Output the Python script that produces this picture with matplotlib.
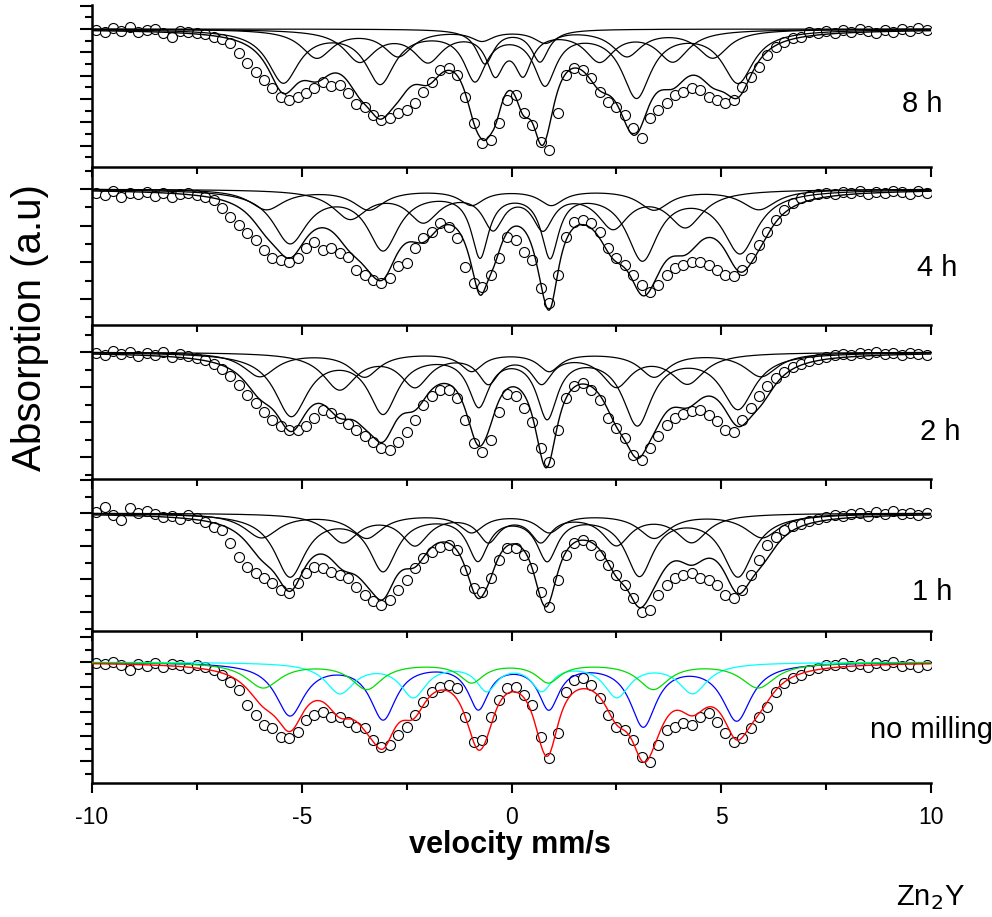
import numpy as np
import matplotlib
matplotlib.use("Agg")
import matplotlib.pyplot as plt
from matplotlib.ticker import MultipleLocator

plt.rcParams['font.family'] = ['Liberation Sans', 'DejaVu Sans']
plt.rcParams['axes.unicode_minus'] = False

# channel velocities (mm/s)
velocity = np.round(np.arange(-9.9, 10.0, 0.2), 1)

# measured spectra, absorption in a.u. relative to the baseline (0)
absorb_8h = [-0.01, -0.03, 0.01, -0.02, 0.02, -0.03, -0.01, 0.00, -0.04, -0.08,
             -0.02, -0.03, -0.04, -0.05, -0.08, -0.10, -0.14, -0.24, -0.34, -0.43,
             -0.51, -0.59, -0.68, -0.71, -0.68, -0.64, -0.59, -0.53, -0.57, -0.56,
             -0.64, -0.75, -0.78, -0.86, -0.91, -0.89, -0.84, -0.81, -0.74, -0.63,
             -0.53, -0.41, -0.39, -0.46, -0.68, -0.94, -1.14, -1.11, -0.94, -0.71,
             -0.66, -0.84, -0.96, -1.13, -1.21, -0.84, -0.46, -0.39, -0.41, -0.49,
             -0.63, -0.73, -0.78, -0.86, -0.99, -1.09, -0.89, -0.81, -0.74, -0.66,
             -0.63, -0.59, -0.61, -0.68, -0.71, -0.74, -0.71, -0.58, -0.48, -0.38,
             -0.26, -0.18, -0.13, -0.09, -0.08, -0.03, -0.04, -0.02, -0.04, -0.01,
             -0.03, 0.00, -0.02, -0.04, -0.01, -0.03, 0.00, -0.02, 0.01, -0.01]
absorb_4h = [-0.04, -0.06, -0.02, -0.08, -0.04, -0.05, -0.03, -0.07, -0.04, -0.08,
             -0.05, -0.04, -0.06, -0.08, -0.11, -0.19, -0.28, -0.36, -0.44, -0.51,
             -0.61, -0.69, -0.71, -0.73, -0.69, -0.59, -0.53, -0.61, -0.59, -0.64,
             -0.68, -0.81, -0.86, -0.91, -0.94, -0.89, -0.77, -0.74, -0.59, -0.49,
             -0.43, -0.34, -0.38, -0.49, -0.78, -0.94, -0.98, -0.86, -0.69, -0.48,
             -0.51, -0.63, -0.71, -0.99, -1.14, -0.86, -0.48, -0.33, -0.31, -0.34,
             -0.43, -0.59, -0.69, -0.76, -0.86, -0.96, -1.03, -0.96, -0.86, -0.79,
             -0.76, -0.73, -0.73, -0.76, -0.81, -0.86, -0.87, -0.81, -0.69, -0.56,
             -0.43, -0.31, -0.21, -0.14, -0.09, -0.07, -0.05, -0.04, -0.05, -0.03,
             -0.04, -0.02, -0.05, -0.03, -0.04, -0.02, -0.03, -0.05, -0.02, -0.04]
absorb_2h = [-0.01, -0.03, 0.01, -0.02, 0.00, -0.04, -0.01, -0.03, 0.00, -0.05,
             -0.02, -0.04, -0.06, -0.08, -0.12, -0.17, -0.24, -0.33, -0.43, -0.51,
             -0.60, -0.68, -0.74, -0.78, -0.78, -0.74, -0.66, -0.58, -0.61, -0.66,
             -0.72, -0.78, -0.84, -0.90, -0.96, -0.98, -0.90, -0.80, -0.68, -0.53,
             -0.44, -0.38, -0.38, -0.46, -0.68, -0.91, -1.00, -0.88, -0.60, -0.42,
             -0.44, -0.56, -0.70, -0.96, -1.10, -0.78, -0.46, -0.34, -0.31, -0.38,
             -0.48, -0.66, -0.76, -0.86, -1.03, -1.08, -0.96, -0.84, -0.73, -0.66,
             -0.62, -0.59, -0.58, -0.63, -0.69, -0.78, -0.80, -0.68, -0.56, -0.44,
             -0.34, -0.26, -0.20, -0.15, -0.12, -0.09, -0.07, -0.05, -0.03, -0.02,
             -0.03, -0.01, -0.02, 0.00, -0.02, -0.01, -0.03, -0.01, -0.02, -0.03]
absorb_1h = [0.01, 0.06, -0.02, -0.07, 0.05, 0.00, 0.02, -0.01, -0.04, -0.03,
             -0.06, -0.02, -0.05, -0.09, -0.14, -0.17, -0.30, -0.44, -0.54, -0.60,
             -0.65, -0.70, -0.77, -0.80, -0.70, -0.60, -0.54, -0.55, -0.59, -0.62,
             -0.65, -0.74, -0.82, -0.88, -0.92, -0.87, -0.77, -0.67, -0.55, -0.45,
             -0.39, -0.34, -0.32, -0.37, -0.57, -0.75, -0.79, -0.65, -0.47, -0.35,
             -0.35, -0.42, -0.55, -0.79, -0.94, -0.67, -0.42, -0.30, -0.27, -0.32,
             -0.42, -0.52, -0.62, -0.72, -0.85, -0.99, -0.97, -0.82, -0.72, -0.65,
             -0.62, -0.60, -0.65, -0.67, -0.72, -0.82, -0.85, -0.77, -0.62, -0.47,
             -0.32, -0.24, -0.17, -0.13, -0.11, -0.08, -0.06, -0.04, -0.02, -0.03,
             -0.01, 0.00, -0.03, 0.01, -0.01, 0.02, -0.01, 0.00, -0.02, 0.00]
absorb_0h = [-0.01, -0.02, 0.00, -0.03, -0.08, -0.02, -0.04, -0.01, -0.05, -0.02,
             -0.03, -0.06, -0.03, -0.05, -0.08, -0.13, -0.20, -0.28, -0.43, -0.53,
             -0.63, -0.66, -0.75, -0.76, -0.70, -0.58, -0.53, -0.50, -0.55, -0.55,
             -0.60, -0.65, -0.66, -0.78, -0.85, -0.83, -0.73, -0.65, -0.53, -0.40,
             -0.30, -0.25, -0.23, -0.26, -0.55, -0.80, -0.78, -0.55, -0.38, -0.26,
             -0.25, -0.33, -0.43, -0.75, -0.96, -0.71, -0.30, -0.18, -0.16, -0.23,
             -0.36, -0.53, -0.65, -0.68, -0.78, -0.95, -1.00, -0.83, -0.68, -0.65,
             -0.61, -0.63, -0.55, -0.51, -0.60, -0.71, -0.80, -0.76, -0.66, -0.55,
             -0.45, -0.30, -0.21, -0.16, -0.13, -0.08, -0.06, -0.03, -0.03, -0.01,
             -0.04, -0.02, -0.05, -0.01, -0.03, 0.00, -0.04, -0.02, -0.05, -0.03]

# fitted subspectra: line positions (mm/s), depths (a.u.), half widths (mm/s)
pos_8h = [[-5.44, -3.13, -0.87, 0.80, 2.98, 5.40],
          [-4.64, -2.70, -0.70, 0.80, 2.75, 4.80],
          [-3.62, -1.99, -0.39, 0.28, 2.10, 3.85],
          [-0.63, 0.68]]
dep_8h = [[0.52, 0.52, 0.48, 0.52, 0.66, 0.52],
          [0.28, 0.26, 0.10, 0.12, 0.26, 0.28],
          [0.31, 0.30, 0.40, 0.40, 0.30, 0.31],
          [0.34, 0.32]]
wid_8h = [[0.45, 0.42, 0.32, 0.32, 0.42, 0.45],
          [0.45, 0.42, 0.32, 0.32, 0.42, 0.45],
          [0.45, 0.42, 0.25, 0.25, 0.42, 0.45],
          [0.25, 0.25]]

pos_4h = [[-5.28, -3.06, -0.75, 0.92, 3.12, 5.45],
          [-3.85, -2.10, -0.44, 0.75, 2.42, 4.15],
          [-5.84, -3.40, -0.95, 0.95, 3.40, 5.90]]
dep_4h = [[0.52, 0.58, 0.64, 0.64, 0.68, 0.62],
          [0.28, 0.30, 0.36, 0.36, 0.36, 0.36],
          [0.20, 0.20, 0.15, 0.15, 0.20, 0.20]]
wid_4h = [[0.50, 0.45, 0.25, 0.25, 0.45, 0.50],
          [0.50, 0.45, 0.30, 0.30, 0.45, 0.50],
          [0.50, 0.45, 0.35, 0.35, 0.45, 0.50]]

pos_2h = [[-5.25, -3.06, -0.78, 0.85, 3.00, 5.40],
          [-4.10, -2.30, -0.55, 0.72, 2.50, 4.20],
          [-6.00, -3.50, -0.95, 0.90, 3.40, 5.95]]
dep_2h = [[0.62, 0.58, 0.50, 0.62, 0.70, 0.55],
          [0.36, 0.32, 0.28, 0.28, 0.32, 0.30],
          [0.24, 0.24, 0.18, 0.18, 0.24, 0.24]]
wid_2h = [[0.48, 0.42, 0.30, 0.30, 0.42, 0.48],
          [0.48, 0.42, 0.30, 0.30, 0.42, 0.48],
          [0.48, 0.42, 0.32, 0.32, 0.42, 0.48]]

pos_1h = [[-5.28, -3.06, -0.80, 0.85, 3.05, 5.40],
          [-4.02, -2.30, -0.55, 0.70, 2.50, 4.30],
          [-5.96, -3.45, -0.95, 0.90, 3.40, 5.98]]
dep_1h = [[0.62, 0.55, 0.44, 0.44, 0.60, 0.62],
          [0.28, 0.30, 0.26, 0.26, 0.30, 0.28],
          [0.24, 0.24, 0.18, 0.18, 0.24, 0.24]]
wid_1h = [[0.45, 0.40, 0.30, 0.30, 0.40, 0.45],
          [0.45, 0.40, 0.30, 0.30, 0.40, 0.45],
          [0.50, 0.45, 0.35, 0.35, 0.45, 0.50]]

pos_0h = [[-5.28, -3.06, -0.79, 0.89, 3.14, 5.37],
          [-4.09, -2.34, -0.59, 0.72, 2.51, 4.32],
          [-5.92, -3.45, -0.95, 0.88, 3.38, 5.88]]
dep_0h = [[0.52, 0.55, 0.44, 0.44, 0.62, 0.57],
          [0.30, 0.33, 0.26, 0.26, 0.33, 0.30],
          [0.25, 0.26, 0.19, 0.19, 0.26, 0.25]]
wid_0h = [[0.42, 0.38, 0.30, 0.30, 0.38, 0.42],
          [0.42, 0.38, 0.30, 0.30, 0.38, 0.42],
          [0.50, 0.45, 0.35, 0.35, 0.45, 0.50]]
colors_0h = ["#0000ff", "#00ffff", "#00dd00"]

labels = ["8 h", "4 h", "2 h", "1 h", "no milling"]


def subspectrum(v, pos, dep, wid):
    out = np.zeros_like(v)
    for p, d, w in zip(pos, dep, wid):
        out -= d / (1.0 + ((v - p) / w) ** 2)
    return out


W, H = 992, 917
fig = plt.figure(figsize=(W / 100, H / 100), dpi=100)

# panel geometry in pixels: top, bottom, baseline, tick step
frames = [(5, 167, 29, 11.65), (167, 325, 189, 18.3), (325, 479, 352, 17.5),
          (479, 631, 513, 16.5), (631, 783, 662, 12.4)]
x0, x1 = 92, 931

data = [absorb_8h, absorb_4h, absorb_2h, absorb_1h, absorb_0h]
fits = [(pos_8h, dep_8h, wid_8h), (pos_4h, dep_4h, wid_4h), (pos_2h, dep_2h, wid_2h),
        (pos_1h, dep_1h, wid_1h), (pos_0h, dep_0h, wid_0h)]
label_xy = [(922, 104), (937, 268), (940, 432), (932, 592), (870, 730)]

v = np.linspace(-10, 10, 1001)
axes = []
for i, (top, bot, base, step) in enumerate(frames):
    ax = fig.add_axes([x0 / W, 1 - bot / H, (x1 - x0) / W, (bot - top) / H])
    ax.set_xlim(-10, 10)
    ax.set_ylim(-(bot - base) / 100, (base - top) / 100)
    ax.patch.set_alpha(0)

    ax.plot(velocity, data[i], "o", ms=7.2, mfc="white", mec="black", mew=0.8, zorder=2)

    pos, dep, wid = fits[i]
    total = np.zeros_like(v)
    for k in range(len(pos)):
        sub = subspectrum(v, pos[k], dep[k], wid[k])
        total += sub
        c = colors_0h[k] if i == 4 else "black"
        ax.plot(v, sub, color=c, lw=0.9, zorder=3)
    ax.plot(v, total, color="red" if i == 4 else "black", lw=1.0, zorder=4)

    for s in ("top", "right"):
        ax.spines[s].set_visible(False)
    for s in ("left", "bottom"):
        ax.spines[s].set_linewidth(1.8)
    ax.xaxis.set_major_locator(MultipleLocator(5))
    ax.xaxis.set_minor_locator(MultipleLocator(2.5))
    ax.yaxis.set_major_locator(MultipleLocator(2 * step / 100))
    ax.yaxis.set_minor_locator(MultipleLocator(step / 100))
    ax.tick_params(which="major", direction="out", width=1.5, length=7.5)
    ax.tick_params(which="minor", direction="out", width=1.5, length=5)
    ax.tick_params(axis="y", which="major", length=8.5)
    ax.tick_params(labelleft=False, labelbottom=(i == 4), labelsize=16.5, pad=9)
    axes.append(ax)

    lx, ly = label_xy[i]
    fig.text(lx / W, 1 - ly / H, labels[i], fontsize=21,
             ha="left" if i == 4 else "center", va="center")

fig.text(510 / W, 1 - 845 / H, "velocity mm/s", fontsize=22, fontweight="bold",
         ha="center", va="center")
fig.text(30 / W, 1 - 328 / H, "Absorption (a.u)", fontsize=29, rotation=90,
         ha="center", va="center")
fig.text(930 / W, 1 - 898 / H, "Zn$_2$Y", fontsize=21, ha="center", va="center")

fig.savefig("out.png", dpi=100)
